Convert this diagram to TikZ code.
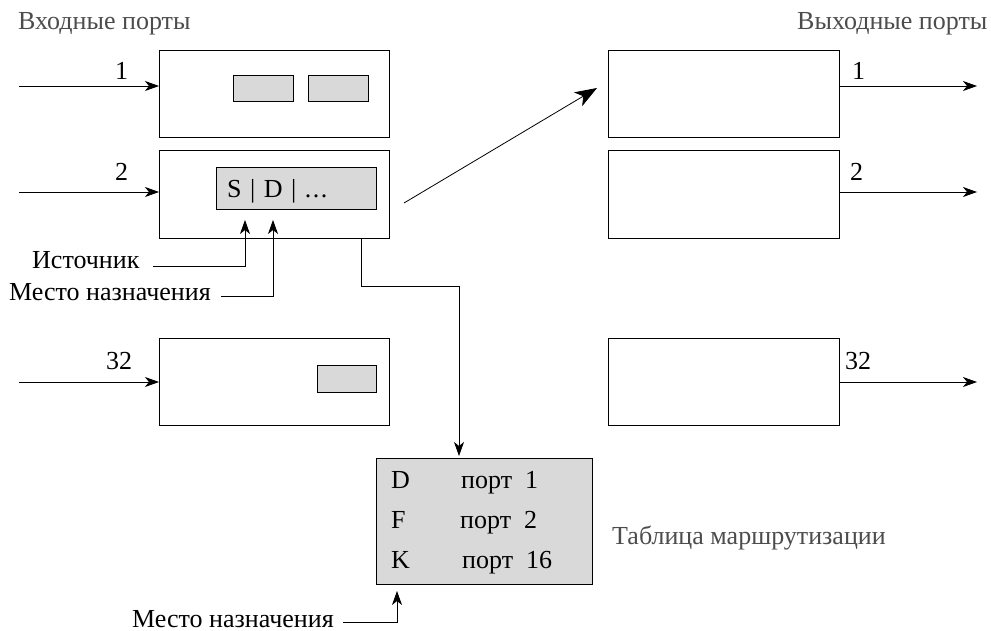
\documentclass[tikz,border=0pt]{standalone}
\usepackage{fontspec}
\setmainfont{Liberation Serif}
\usetikzlibrary{arrows.meta}
\tikzset{
 pbox/.style={draw,line width=0.8pt,rectangle,inner sep=0pt},
 gbox/.style={pbox,fill=black!15},
 conn/.style={draw,line width=0.8pt,-{Stealth[length=14pt,width=10pt,inset=4pt]}},
 bigconn/.style={draw,line width=0.8pt,-{Stealth[length=22pt,width=16pt,inset=6pt]}},
 lbl/.style={inner sep=0pt,anchor=base west,font=\fontsize{26}{28}\selectfont},
 glbl/.style={lbl,text=black!70}
}
\newcommand{\boxat}[6][pbox]{\node[#1,minimum width=#4pt-#3pt,minimum height=#6pt-#5pt,anchor=north west] (#2) at (#3,#5) {};}
\begin{document}
\begin{tikzpicture}[x=1pt,y=-1pt]
\useasboundingbox (0,0) rectangle (991,631);
% port boxes
\boxat{in1}{159}{389}{50}{137}
\boxat{in2}{159}{389}{150}{238}
\boxat{in3}{159}{389}{338}{425}
\boxat{out1}{608}{839}{50}{137}
\boxat{out2}{608}{839}{150}{238}
\boxat{out3}{608}{839}{338}{425}
\boxat[gbox]{p1}{233}{293}{75}{101}
\boxat[gbox]{p2}{308}{368}{75}{101}
\boxat[gbox]{pkt}{216}{376}{167}{209}
\boxat[gbox]{p3}{317}{376}{365}{392}
\boxat[gbox]{tbl}{376}{592}{458}{584}
% free ends
\coordinate (i1) at (19,86);
\coordinate (i2) at (19,192);
\coordinate (i3) at (19,382);
\coordinate (o1) at (977,86);
\coordinate (o2) at (977,192);
\coordinate (o3) at (977,382);
\coordinate (ds) at (404,203);
\coordinate (de) at (597,88);
\coordinate (r1) at (361,286);
\coordinate (r2) at (459,286);
\coordinate (r3) at (459,456);
\coordinate (s0) at (153,266);
\coordinate (s1) at (245,266);
\coordinate (s2) at (245,220);
\coordinate (m0) at (221,296);
\coordinate (m1) at (273,296);
\coordinate (m2) at (273,220);
\coordinate (b0) at (343,622);
\coordinate (b1) at (397,622);
\coordinate (b2) at (397,591);
% labels
\node[glbl] (tin) at (18,30) {Входные порты};
\node[glbl] (tout) at (797,30) {Выходные порты};
\node[glbl] (ttbl) at (612,544) {Таблица маршрутизации};
\node[lbl] (n1) at (115,80) {1};
\node[lbl] (n2) at (115,181) {2};
\node[lbl] (n3) at (106,369) {32};
\node[lbl] (m1l) at (852,80) {1};
\node[lbl] (m2l) at (850,181) {2};
\node[lbl] (m3l) at (845,369) {32};
\node[lbl] (src) at (32,269) {Источник};
\node[lbl] (dst) at (9,301) {Место назначения};
\node[lbl] (dst2) at (132,627) {Место назначения};
\node[lbl] (sd) at (227,198) {S\kern2pt{} |\kern2pt{} D\kern2pt{} |\kern2pt{} .\kern1.5pt.\kern1.5pt.};
\node[lbl] (td) at (391,488) {D};
\node[lbl] (tf) at (391,528) {F};
\node[lbl] (tk) at (391,568) {K};
\node[lbl] (t1) at (461,488) {порт\kern13pt 1};
\node[lbl] (t2) at (460,528) {порт\kern13pt 2};
\node[lbl] (t3) at (462,568) {порт\kern13pt 16};
% connectors
\draw[conn] (i1) -- (i1 -| in1.west);
\draw[conn] (i2) -- (i2 -| in2.west);
\draw[conn] (i3) -- (i3 -| in3.west);
\draw[conn] (o1 -| out1.east) -- (o1);
\draw[conn] (o2 -| out2.east) -- (o2);
\draw[conn] (o3 -| out3.east) -- (o3);
\draw[bigconn] (ds) -- (de);
\draw[conn] (r1 |- in2.south) -- (r1) -- (r2) -- (r3);
\draw[conn] (s0) -- (s1) -- (s2);
\draw[conn] (m0) -- (m1) -- (m2);
\draw[conn] (b0) -- (b1) -- (b2);
\end{tikzpicture}
\end{document}
